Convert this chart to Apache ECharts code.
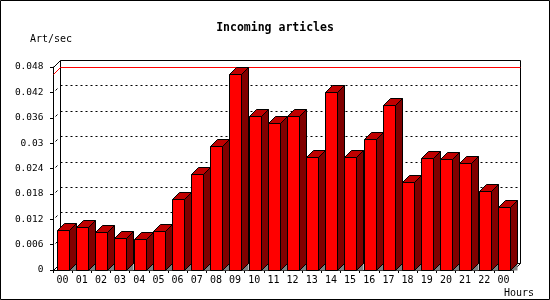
<!DOCTYPE html>
<html>
<head>
<meta charset="utf-8">
<script src="https://cdn.jsdelivr.net/npm/echarts@6/dist/echarts.min.js"></script>
<style>html,body{margin:0;padding:0;background:#fff}#c{width:550px;height:300px}</style>
</head>
<body>
<div id="c"></div>
<script>
const hours = ['00','01','02','03','04','05','06','07','08','09','10','11','12','13','14','15','16','17','18','19','20','21','22','00'];
const artPerSec = [0.0094,0.0101,0.0090,0.0075,0.0073,0.0092,0.0169,0.0227,0.0293,0.0464,0.0363,0.0347,0.0363,0.0267,0.0420,0.0268,0.0309,0.0391,0.0209,0.0266,0.0263,0.0252,0.0186,0.0150];
const gridValues = [0.006,0.012,0.018,0.024,0.030,0.036,0.042];
const yMax = 0.048;
const yStep = 0.006;

const D = 7;
const FONT = 'DejaVu Sans Mono';
const s = v => Math.round(v) + 0.5;
const maxVal = Math.max.apply(null, artPerSec);

const chart = echarts.init(document.getElementById('c'), null, {renderer:'canvas'});

function wallItem(params, api) {
  const cs = params.coordSys;
  const x0 = s(cs.x), x1 = s(cs.x + cs.width), yt = s(cs.y), yb = s(cs.y + cs.height);
  const st = {stroke:'#000', lineWidth:1, fill:null};
  return {type:'group', children:[
    {type:'rect', shape:{x:x0+D, y:yt-D, width:x1-x0, height:yb-yt}, style:{fill:'#fff', stroke:'#000', lineWidth:1}},
    {type:'line', shape:{x1:x0, y1:yt, x2:x0+D, y2:yt-D}, style:st},
    {type:'line', shape:{x1:x0, y1:yb, x2:x0+D, y2:yb-D}, style:st},
    {type:'line', shape:{x1:x1, y1:yb, x2:x1+D, y2:yb-D}, style:st}
  ]};
}

function gridItem(params, api) {
  const cs = params.coordSys;
  const x0 = s(cs.x), x1 = s(cs.x + cs.width);
  const y = s(api.coord([0, api.value(1)])[1]);
  return {type:'group', children:[
    {type:'line', shape:{x1:x0+D, y1:y-D, x2:x1+D, y2:y-D}, style:{stroke:'#000', lineWidth:1, lineDash:[2,3]}},
    {type:'line', shape:{x1:x0+2, y1:y-2, x2:x0+4, y2:y-4}, style:{stroke:'#000', lineWidth:1}}
  ]};
}

function maxItem(params, api) {
  const cs = params.coordSys;
  const x0 = s(cs.x), x1 = s(cs.x + cs.width);
  const y = s(api.coord([0, api.value(1)])[1]);
  return {type:'group', children:[
    {type:'line', shape:{x1:x0+D, y1:y-D, x2:x1+D, y2:y-D}, style:{stroke:'#ff0000', lineWidth:1}},
    {type:'line', shape:{x1:x0, y1:y, x2:x0+D, y2:y-D}, style:{stroke:'#ff0000', lineWidth:1}}
  ]};
}

function barItem(params, api) {
  const i = api.value(0);
  const top = api.coord([i, api.value(1)]);
  const bot = api.coord([i, 0]);
  const w = api.size([1, 0])[0] * 0.6;
  const xl = s(top[0] - w / 2);
  const xr = xl + Math.round(w);
  const yt = s(top[1]);
  const yb = s(bot[1]);
  const line = {stroke:'#000', lineWidth:1};
  return {type:'group', children:[
    {type:'polygon', shape:{points:[[xr,yb],[xr+D,yb-D],[xr+D,yb]]}, style:{fill:'#808080'}},
    {type:'polygon', shape:{points:[[xr,yt],[xr+D,yt-D],[xr+D,yb-D],[xr,yb]]}, style:Object.assign({fill:'#800000'}, line)},
    {type:'polygon', shape:{points:[[xl,yt],[xl+D,yt-D],[xr+D,yt-D],[xr,yt]]}, style:Object.assign({fill:'#c00000'}, line)},
    {type:'rect', shape:{x:xl, y:yt, width:xr-xl, height:yb-yt}, style:Object.assign({fill:'#ff0000'}, line)}
  ]};
}

chart.setOption({
  animation:false,
  backgroundColor:'#fff',
  title:[
    {text:'Incoming articles', left:'center', top:22, padding:0,
     textStyle:{fontFamily:FONT, fontSize:11.5, fontWeight:'bold', color:'#000'}},
    {text:'Art/sec', left:30, top:34, padding:0,
     textStyle:{fontFamily:FONT, fontSize:10, fontWeight:'normal', color:'#000'}},
    {text:'Hours', right:16, top:288, padding:0,
     textStyle:{fontFamily:FONT, fontSize:10, fontWeight:'normal', color:'#000'}}
  ],
  grid:{left:53, right:37, top:67, bottom:30, containLabel:false},
  xAxis:{
    type:'category', data:hours, boundaryGap:true,
    axisLine:{lineStyle:{color:'#000', width:1}},
    axisTick:{show:true, length:3, lineStyle:{color:'#000'}},
    axisLabel:{interval:0, margin:5, color:'#000', fontFamily:FONT, fontSize:10},
    splitLine:{show:false}
  },
  yAxis:{
    type:'value', min:0, max:yMax, interval:yStep,
    axisLine:{show:true, lineStyle:{color:'#000', width:1}},
    axisTick:{show:true, length:3, lineStyle:{color:'#000'}},
    axisLabel:{margin:9.5, color:'#000', fontFamily:FONT, fontSize:9.5},
    splitLine:{show:false}
  },
  graphic:[
    {type:'rect', shape:{x:0.5, y:0.5, width:549, height:299}, style:{fill:null, stroke:'#000', lineWidth:1}, z:100}
  ],
  series:[
    {type:'custom', name:'wall', z:1, data:[[0,0]], renderItem:wallItem, silent:true},
    {type:'custom', name:'grid', z:2, data:gridValues.map(v => [0, v]), renderItem:gridItem, silent:true},
    {type:'custom', name:'max', z:3, data:[[0, maxVal]], renderItem:maxItem, silent:true},
    {type:'custom', name:'Art/sec', z:4, data:artPerSec.map((v, i) => [i, v]), renderItem:barItem, encode:{x:0, y:1}}
  ]
});
</script>
</body>
</html>
